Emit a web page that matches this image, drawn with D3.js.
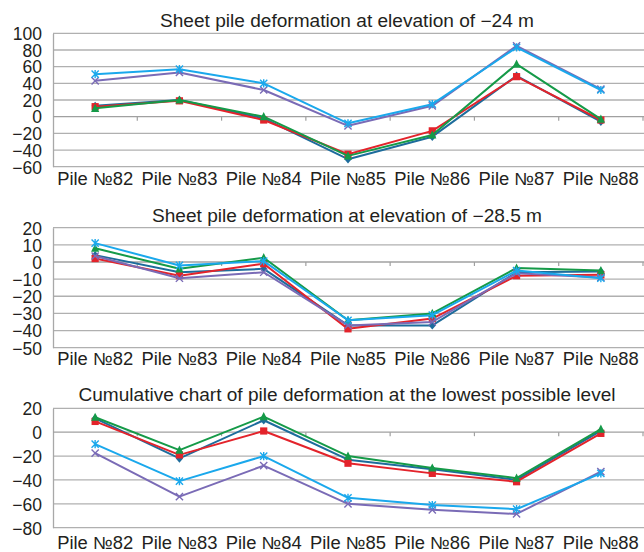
<!DOCTYPE html>
<html><head><meta charset="utf-8">
<script src="https://cdn.jsdelivr.net/npm/d3@7"></script>
<style>
html,body{margin:0;padding:0;background:#fff;}
svg{display:block;}
text{font-family:"Liberation Sans",Arial,Helvetica,sans-serif;fill:#231f20;}
</style></head>
<body>
<svg id="chart" width="644" height="552"></svg>
<script>
// ---- data ----
const categories = ["Pile №82","Pile №83","Pile №84","Pile №85","Pile №86","Pile №87","Pile №88"];

const titles = [
  "Sheet pile deformation at elevation of \u221224 m",
  "Sheet pile deformation at elevation of \u221228.5 m",
  "Cumulative chart of pile deformation at the lowest possible level"
];

const yTicks1 = [100, 80, 60, 40, 20, 0, -20, -40, -60];
const yTicks2 = [20, 10, 0, -10, -20, -30, -40, -50];
const yTicks3 = [20, 0, -20, -40, -60, -80];

// panel 1: elevation -24 m
const p1Blue   = [13, 20, -2, -51, -24, 49, -6];
const p1Red    = [12, 19, -4, -45, -17, 48, -4];
const p1Green  = [10, 20, 0, -47, -22, 63, -3];
const p1Purple = [43, 53, 32, -11, 13, 85, 33];
const p1Cyan   = [51, 57, 40, -8, 15, 83, 32];

// panel 2: elevation -28.5 m
const p2Blue   = [4, -6, -4, -37, -37, -6, -5.5];
const p2Red    = [2, -8, -1, -39, -33, -8, -7.5];
const p2Green  = [8, -4, 2.5, -34, -30, -3.5, -5];
const p2Purple = [3.5, -9.5, -6, -37, -35, -6.5, -9];
const p2Cyan   = [11, -2, 0.5, -34, -31, -5, -9.5];

// panel 3: cumulative, lowest possible level
const p3Blue   = [11.5, -22, 10, -23, -31, -40, 1];
const p3Red    = [9, -19, 1, -26, -34.5, -41.5, -1];
const p3Green  = [12.5, -15, 13, -20, -30, -38.5, 2.5];
const p3Purple = [-17.5, -54, -28, -60, -65, -68.5, -33];
const p3Cyan   = [-10, -41, -20, -55, -61, -64.5, -34.5];

// ---- styling / layout ----
const seriesStyle = [
  {color:"#1d6c9c", marker:"diamond"},
  {color:"#e3232b", marker:"square"},
  {color:"#159a48", marker:"triangle"},
  {color:"#7a6bb6", marker:"cross"},
  {color:"#1aa8ec", marker:"star"}
];

const panels = [
  {title:titles[0], titleW:374, ticks:yTicks1, series:[p1Blue,p1Red,p1Green,p1Purple,p1Cyan], top:33.3, bottom:166.7, titleY:27, labelY:185},
  {title:titles[1], titleW:390, ticks:yTicks2, series:[p2Blue,p2Red,p2Green,p2Purple,p2Cyan], top:227.7, bottom:347.7, titleY:221.5, labelY:365},
  {title:titles[2], titleW:537, ticks:yTicks3, series:[p3Blue,p3Red,p3Green,p3Purple,p3Cyan], top:408.3, bottom:527.7, titleY:401, labelY:548.5}
];

const svg = d3.select("#chart");
const xLeft = 53, xRight = 643;
const x = d3.scaleBand().domain(categories).range([xLeft, xRight]).paddingInner(0).paddingOuter(0);

function drawMarker(g, type, cx, cy, color) {
  const s = 3.6;
  if (type === "diamond") {
    g.append("path").attr("d", `M${cx},${cy-s-0.6}L${cx+s},${cy}L${cx},${cy+s+0.6}L${cx-s},${cy}Z`).attr("fill", color);
  } else if (type === "square") {
    g.append("rect").attr("x", cx-s).attr("y", cy-s).attr("width", 2*s).attr("height", 2*s).attr("fill", color);
  } else if (type === "triangle") {
    g.append("path").attr("d", `M${cx},${cy-s-1}L${cx+s+0.5},${cy+s}L${cx-s-0.5},${cy+s}Z`).attr("fill", color);
  } else if (type === "cross") {
    g.append("path").attr("d", `M${cx-s},${cy-s}L${cx+s},${cy+s}M${cx-s},${cy+s}L${cx+s},${cy-s}`).attr("stroke", color).attr("stroke-width", 1.4);
  } else if (type === "star") {
    g.append("path").attr("d", `M${cx-s},${cy-s}L${cx+s},${cy+s}M${cx-s},${cy+s}L${cx+s},${cy-s}M${cx},${cy-s-0.5}L${cx},${cy+s+0.5}`).attr("stroke", color).attr("stroke-width", 1.4);
  }
}

panels.forEach(p => {
  const ext = d3.extent(p.ticks);
  const y = d3.scaleLinear().domain([ext[0], ext[1]]).range([p.bottom, p.top]);
  const g = svg.append("g");

  // gridlines
  g.append("g").selectAll("line").data(p.ticks.filter(t => t !== 0)).join("line")
    .attr("x1", xLeft).attr("x2", 644)
    .attr("y1", d => y(d)).attr("y2", d => y(d))
    .attr("stroke", "#b0b0b0").attr("stroke-width", 1.3);

  // y axis (left)
  const yAxis = d3.axisLeft(y).tickValues(p.ticks).tickSize(0).tickPadding(11)
    .tickFormat(d => d < 0 ? "\u2212" + Math.abs(d) : String(d));
  const ya = g.append("g").attr("transform", `translate(${xLeft},0)`).call(yAxis);
  ya.select(".domain").attr("stroke", "#a8a8a8").attr("stroke-width", 1.3);
  ya.selectAll("text").attr("font-size", 17.5).attr("fill", "#231f20")
    .attr("font-family", '"Liberation Sans",Arial,sans-serif').attr("dy", "0.36em");

  // zero axis with category ticks
  const boundaries = categories.slice(1).map(c => x(c)).concat([xRight]);
  g.append("line").attr("x1", xLeft).attr("x2", 644).attr("y1", y(0)).attr("y2", y(0))
    .attr("stroke", "#a0a0a0").attr("stroke-width", 1.3);
  g.append("g").selectAll("line").data(boundaries).join("line")
    .attr("x1", d => d).attr("x2", d => d).attr("y1", y(0)).attr("y2", y(0) + 4)
    .attr("stroke", "#a0a0a0").attr("stroke-width", 1.2);

  // category labels
  g.append("g").selectAll("text").data(categories).join("text")
    .attr("x", d => x(d) + x.bandwidth()/2).attr("y", p.labelY)
    .attr("text-anchor", "middle").attr("font-size", 17.5)
    .attr("textLength", 76).attr("lengthAdjust", "spacingAndGlyphs").text(d => d);

  // title
  g.append("text").attr("x", 347).attr("y", p.titleY)
    .attr("text-anchor", "middle").attr("font-size", 17.5)
    .attr("textLength", p.titleW).attr("lengthAdjust", "spacingAndGlyphs").text(p.title);

  // series
  const line = d3.line().x((d, i) => x(categories[i]) + x.bandwidth()/2).y(d => y(d));
  p.series.forEach((vals, si) => {
    const st = seriesStyle[si];
    const sg = g.append("g");
    sg.append("path").datum(vals).attr("d", line).attr("fill", "none")
      .attr("stroke", st.color).attr("stroke-width", 2).attr("stroke-linejoin", "round");
    vals.forEach((v, i) => drawMarker(sg, st.marker, x(categories[i]) + x.bandwidth()/2, y(v), st.color));
  });
});
</script>
</body></html>
